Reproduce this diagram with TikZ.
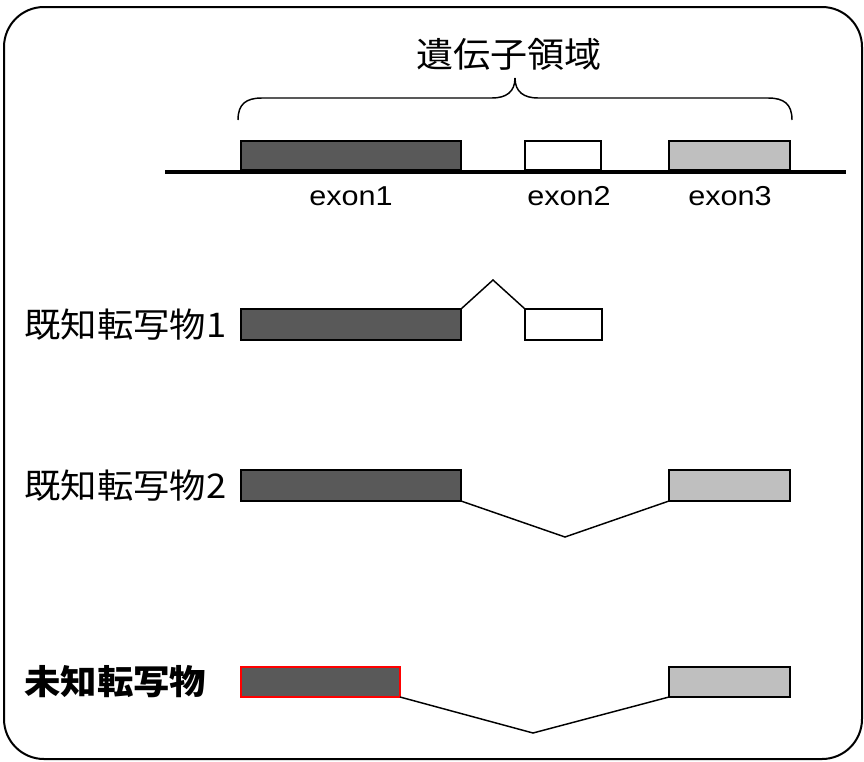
\documentclass[tikz,border=0pt]{standalone}
\usepackage{fontspec}
\newfontfamily\jp[FakeStretch=1.07]{Noto Sans CJK JP}
\newfontfamily\lat[FakeStretch=1.12]{Liberation Sans}
\definecolor{darkex}{HTML}{595959}
\definecolor{lightex}{HTML}{BFBFBF}
\begin{document}
\begin{tikzpicture}[x=0.75pt,y=-0.75pt,
  ebox/.style={draw=black, line width=1.1pt, inner sep=0pt, outer sep=0pt, minimum height=22.5pt},
  intron/.style={draw=black, line width=1.1pt},
  jplabel/.style={inner sep=0pt, anchor=west, font=\jp\fontsize{25.5pt}{30pt}\selectfont},
  exlabel/.style={inner sep=0pt, anchor=base, font=\lat\fontsize{20.5pt}{24pt}\selectfont}]
\useasboundingbox (0,0) rectangle (864,761);
% outer frame
\draw[line width=1.5pt, rounded corners=30pt] (4,7) rectangle (862,759);
% title and brace
\node[inner sep=0pt, font=\jp\fontsize{26pt}{30pt}\selectfont] (title) at (509,54) {遺伝子領域};
\draw[line width=1.1pt] (238,120) .. controls (238,104) and (246,98) .. (262,98) -- (492,98)
  .. controls (506,98) and (515,92) .. (515,78)
  .. controls (515,92) and (524,98) .. (538,98) -- (768,98)
  .. controls (784,98) and (792,104) .. (792,120);
% genome line
\coordinate (gl) at (165,172);
\coordinate (gr) at (846,172);
\draw[line width=2.7pt] (gl) -- (gr);
% gene exons
\node[ebox, fill=darkex, minimum width=165pt, minimum height=21.75pt] (g1) at (351,155.5) {};
\node[ebox, fill=white, minimum width=57pt, minimum height=21.75pt] (g2) at (563,155.5) {};
\node[ebox, fill=lightex, minimum width=90.75pt, minimum height=21.75pt] (g3) at (729.5,155.5) {};
\node[exlabel] (l1) at (351,205) {exon1};
\node[exlabel] (l2) at (569,205) {exon2};
\node[exlabel] (l3) at (730,205) {exon3};
% transcript 1
\node[jplabel] (t1) at (24,325) {既知転写物1};
\node[ebox, fill=darkex, minimum width=165pt, minimum height=23.25pt] (a1) at (351,324.5) {};
\node[ebox, fill=white, minimum width=57.75pt, minimum height=23.25pt] (a2) at (563.5,324.5) {};
\coordinate (p1) at (493,280);
\draw[intron] (a1.north east) -- (p1) -- (a2.north west);
% transcript 2
\node[jplabel] (t2) at (24,486) {既知転写物2};
\node[ebox, fill=darkex, minimum width=165pt, minimum height=23.25pt] (b1) at (351,485.5) {};
\node[ebox, fill=lightex, minimum width=90.75pt, minimum height=23.25pt] (b3) at (729.5,485.5) {};
\coordinate (p2) at (565,537);
\draw[intron] (b1.south east) -- (p2) -- (b3.south west);
% transcript 3
\node[jplabel, font=\jp\bfseries\fontsize{25.5pt}{30pt}\selectfont] (t3) at (24,682) {未知転写物};
\node[ebox, draw=red, fill=darkex, minimum width=119.25pt] (c1) at (320.5,682) {};
\node[ebox, fill=lightex, minimum width=90.75pt] (c3) at (729.5,682) {};
\coordinate (p3) at (533,733);
\draw[intron] (c1.south east) -- (p3) -- (c3.south west);
\end{tikzpicture}
\end{document}
